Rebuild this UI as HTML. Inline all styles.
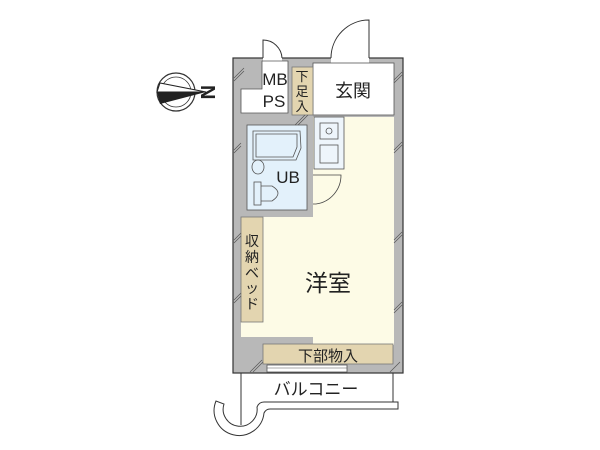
<!DOCTYPE html>
<html><head><meta charset="utf-8"><style>
html,body{margin:0;padding:0;background:#fff;width:600px;height:450px;overflow:hidden}
text{font-family:"Liberation Sans","Noto Sans CJK JP",sans-serif;fill:#222}
</style></head><body>
<svg width="600" height="450" viewBox="0 0 600 450" xmlns="http://www.w3.org/2000/svg">
<rect x="233" y="58" width="170" height="315" fill="#b8b8b8" stroke="#333" stroke-width="1.2"/>
<rect x="263" y="57" width="19" height="9" fill="#fff"/>
<rect x="331" y="57" width="38" height="9" fill="#fff"/>
<rect x="241" y="217" width="153" height="120" fill="#fdfbe6"/>
<rect x="313" y="117" width="81" height="228" fill="#fdfbe6"/>
<rect x="313" y="63" width="81" height="52" fill="#fff" stroke="#555" stroke-width="0.8"/>
<path d="M262 61 H288 V113 H241 V89 H262 Z" fill="#fff" stroke="#555" stroke-width="0.8"/>
<rect x="292" y="67" width="21" height="48" fill="#e3d5b0" stroke="#777" stroke-width="0.8"/>
<rect x="247" y="125" width="60" height="85" fill="#e3f1fb" stroke="#555" stroke-width="0.8"/>
<path d="M253 131 H300 L301 148 L296 160 H253 Z" fill="#e3f1fb" stroke="#555" stroke-width="0.8"/>
<path d="M256 134 H297 L297 147 L293 157 H256 Z" fill="none" stroke="#555" stroke-width="0.8"/>
<ellipse cx="258" cy="167" rx="6" ry="7" fill="none" stroke="#555" stroke-width="0.8"/>
<rect x="254" y="182" width="7" height="23" fill="none" stroke="#555" stroke-width="0.8"/>
<path d="M261 186 H272 Q284 193 272 201 H261" fill="none" stroke="#555" stroke-width="0.8"/>
<rect x="314" y="117" width="30" height="52" fill="#eef5fb" stroke="#555" stroke-width="0.8"/>
<rect x="320" y="123" width="18" height="16" fill="none" stroke="#555" stroke-width="0.8"/>
<circle cx="329" cy="131" r="3" fill="none" stroke="#555" stroke-width="0.8"/>
<rect x="320" y="145" width="18" height="18" fill="none" stroke="#555" stroke-width="0.8"/>
<path d="M313 204 H316 A29 29 0 0 0 341 175 L313 175" fill="none" stroke="#444" stroke-width="0.8"/>
<rect x="241" y="217" width="22" height="105" fill="#e3d5b0" stroke="#777" stroke-width="0.8"/>
<rect x="263" y="344" width="130" height="20" fill="#e3d5b0" stroke="#777" stroke-width="0.8"/>
<rect x="267" y="365" width="80" height="7" fill="#fff" stroke="#555" stroke-width="0.8"/>
<line x1="267" y1="368" x2="347" y2="368" stroke="#555" stroke-width="0.6"/>
<g stroke="#555" stroke-width="0.7">
<line x1="234" y1="78" x2="244" y2="68"/><line x1="234" y1="81" x2="244" y2="71"/>
<line x1="234" y1="150" x2="241" y2="143"/><line x1="234" y1="153" x2="241" y2="146"/>
<line x1="234" y1="240" x2="241" y2="233"/><line x1="234" y1="243" x2="241" y2="236"/>
<line x1="234" y1="300" x2="241" y2="293"/><line x1="234" y1="303" x2="241" y2="296"/>
<line x1="394" y1="80" x2="402" y2="72"/><line x1="394" y1="83" x2="402" y2="75"/>
<line x1="394" y1="150" x2="402" y2="142"/><line x1="394" y1="153" x2="402" y2="145"/>
<line x1="394" y1="240" x2="402" y2="232"/><line x1="394" y1="243" x2="402" y2="235"/>
<line x1="394" y1="310" x2="402" y2="302"/><line x1="394" y1="313" x2="402" y2="305"/>
<line x1="250" y1="372" x2="262" y2="360"/><line x1="253" y1="372" x2="263" y2="362"/>
<line x1="390" y1="372" x2="400" y2="362"/>
<line x1="295" y1="125" x2="305" y2="115"/><line x1="298" y1="125" x2="308" y2="115"/>
</g>
<path d="M263 58 V40 A19 19 0 0 1 282 58" fill="none" stroke="#333" stroke-width="1"/>
<path d="M369 58 V20 A38 38 0 0 0 331 58" fill="none" stroke="#333" stroke-width="1"/>
<path d="M241 373 V425 M393 373 V402" fill="none" stroke="#333" stroke-width="1"/>
<path d="M216 401 A25 25 0 1 0 264 413 Q266 409 270 409 H398 V402 H264 Q259 402 257 407 A17 17 0 1 1 224 404 Z" fill="#fff" stroke="#333" stroke-width="1"/>
<line x1="241" y1="402" x2="241" y2="425" stroke="#333" stroke-width="1"/>
<circle cx="176" cy="92" r="19" fill="#fff" stroke="#333" stroke-width="1.2"/>
<circle cx="176" cy="92" r="15" fill="none" stroke="#333" stroke-width="0.8"/>
<path d="M157 92 L206 92 L160 83 Z" fill="#fff" stroke="#222"/>
<path d="M157 92 L206 92 L160 104 Z" fill="#222"/>
<text x="215" y="100" font-size="20" font-weight="bold" transform="rotate(90 215 92) translate(-7 6)">N</text>
<text x="275" y="85" font-size="17" text-anchor="middle">MB</text>
<text x="274" y="107" font-size="17" text-anchor="middle">PS</text>
<text x="302" y="81" font-size="13" text-anchor="middle">下</text>
<text x="302" y="96" font-size="13" text-anchor="middle">足</text>
<text x="302" y="111" font-size="13" text-anchor="middle">入</text>
<text x="353" y="97" font-size="18" text-anchor="middle">玄関</text>
<text x="288" y="183" font-size="17" text-anchor="middle">UB</text>
<g font-size="14" text-anchor="middle">
<text x="252" y="246">収</text><text x="252" y="262">納</text><text x="252" y="278">ベ</text><text x="252" y="293">ッ</text><text x="252" y="309">ド</text>
</g>
<text x="328" y="291" font-size="23" text-anchor="middle">洋室</text>
<text x="328" y="361" font-size="15" text-anchor="middle">下部物入</text>
<text x="316" y="395" font-size="17" text-anchor="middle">バルコニー</text>
</svg>
</body></html>
